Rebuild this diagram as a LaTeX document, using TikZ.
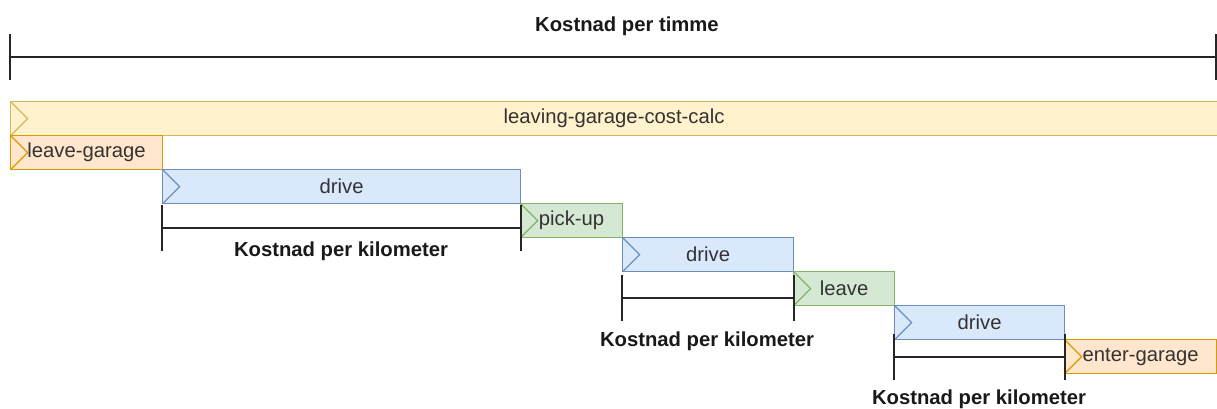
\documentclass[tikz,border=0pt]{standalone}
\usepackage{fontspec}
\setmainfont{Liberation Sans}
\definecolor{yfill}{HTML}{FFF2CC}\definecolor{ydraw}{HTML}{D6B656}
\definecolor{ofill}{HTML}{FFE6CC}\definecolor{odraw}{HTML}{D79B00}
\definecolor{bfill}{HTML}{DAE8FC}\definecolor{bdraw}{HTML}{6C8EBF}
\definecolor{gfill}{HTML}{D5E8D4}\definecolor{gdraw}{HTML}{82B366}
\definecolor{txt}{HTML}{333333}
\begin{document}
\begin{tikzpicture}[x=0.75pt,y=-0.75pt,
  task/.style={rectangle, line width=0.9pt, inner sep=0pt, minimum height=34*0.75pt,
    font=\fontsize{15.2}{17}\selectfont, text=txt, anchor=north west,
    path picture={\draw[#1, line width=0.9pt] (path picture bounding box.north west) -- ++(17*0.75pt,-17*0.75pt) -- (path picture bounding box.south west);}},
  ytask/.style={task=ydraw, fill=yfill, draw=ydraw},
  otask/.style={task=odraw, fill=ofill, draw=odraw},
  btask/.style={task=bdraw, fill=bfill, draw=bdraw},
  gtask/.style={task=gdraw, fill=gfill, draw=gdraw},
  lbl/.style={font=\bfseries\fontsize{15.2}{17}\selectfont, text=black!90},
  bar/.style={line width=1.1pt, draw=black!85}]
\useasboundingbox (0,0) rectangle (1217,408);
% overall timeline
\node[lbl] (title) at (627,26) {Kostnad per timme};
\coordinate (tl) at (10,57);
\coordinate (tr) at (1216,57);
\draw[bar] (tl) -- (tr);
\draw[bar] ([yshift=23*0.75pt]tl) -- ([yshift=-23*0.75pt]tl);
\draw[bar] ([yshift=23*0.75pt]tr) -- ([yshift=-23*0.75pt]tr);
% tasks
\node[ytask, minimum width=1207*0.75pt] (calc) at (10,101) {leaving-garage-cost-calc};
\node[otask, minimum width=152*0.75pt] (lg) at (10,135) {leave-garage};
\node[btask, minimum width=358*0.75pt] (d1) at (162,169) {drive};
\node[gtask, minimum width=102*0.75pt] (pu) at (520,203) {pick-up};
\node[btask, minimum width=171*0.75pt] (d2) at (622,237) {drive};
\node[gtask, minimum width=101*0.75pt] (lv) at (793,271) {leave};
\node[btask, minimum width=170*0.75pt] (d3) at (894,305) {drive};
\node[otask, minimum width=152*0.75pt] (eg) at (1064,339) {enter-garage};
% brackets
\foreach \n/\t/\b/\m/\lx/\ly/\nm in {d1/205/251/228/341/251/k1, d2/275/321/298/707/341/k2, d3/334/380/357/979/399/k3}{
  \coordinate (\nm l) at (\n.south west |- 0,\m);
  \coordinate (\nm r) at (\n.south east |- 0,\m);
  \draw[bar] (\nm l) -- (\nm r);
  \draw[bar] (\n.south west |- 0,\t) -- (\n.south west |- 0,\b);
  \draw[bar] (\n.south east |- 0,\t) -- (\n.south east |- 0,\b);
  \node[lbl] (\nm) at (\lx,\ly) {Kostnad per kilometer};
}
\end{tikzpicture}
\end{document}
